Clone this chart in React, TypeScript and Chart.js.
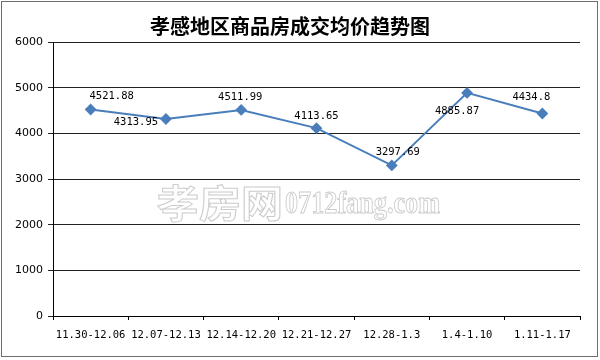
import React, { useEffect, useRef } from "react";
import { Chart, registerables } from "chart.js";

Chart.register(...registerables);

const titleText = "孝感地区商品房成交均价趋势图";
const categories = [
  "11.30-12.06",
  "12.07-12.13",
  "12.14-12.20",
  "12.21-12.27",
  "12.28-1.3",
  "1.4-1.10",
  "1.11-1.17",
];
const prices = [4521.88, 4313.95, 4511.99, 4113.65, 3297.69, 4885.87, 4434.8];
const priceLabels = ["4521.88", "4313.95", "4511.99", "4113.65", "3297.69", "4885.87", "4434.8"];
const watermarkCn = "孝房网";
const watermarkEn = "0712fang.com";

// label placement relative to the point (style only)
const labelOffsets: [number, number][] = [
  [21, -13],
  [-30, 3],
  [-1, -13],
  [0, -12],
  [6, -13],
  [-10, 18],
  [-11, -16],
];

const LINE_COLOR = "#4a7ebb";

const borderPlugin = {
  id: "outerBorder",
  beforeDraw(chart: any) {
    const ctx = chart.ctx;
    ctx.save();
    ctx.fillStyle = "#ffffff";
    ctx.fillRect(0, 0, chart.width, chart.height);
    ctx.strokeStyle = "#6e6e6e";
    ctx.lineWidth = 1;
    ctx.strokeRect(1.5, 1.5, 596, 355);
    ctx.restore();
  },
};

const watermarkPlugin = {
  id: "watermark",
  beforeDatasetsDraw(chart: any) {
    const ctx = chart.ctx;
    ctx.save();
    ctx.textBaseline = "middle";
    ctx.textAlign = "left";
    ctx.fillStyle = "#ffffff";
    ctx.strokeStyle = "#cccccc";
    ctx.lineWidth = 1;
    ctx.font = "bold 38px 'Noto Sans CJK SC'";
    let w = ctx.measureText(watermarkCn).width;
    ctx.save();
    ctx.translate(157, 203);
    ctx.scale(126 / w, 1);
    ctx.fillText(watermarkCn, 0, 0);
    ctx.strokeText(watermarkCn, 0, 0);
    ctx.restore();
    ctx.font = "bold 31px 'Liberation Serif'";
    w = ctx.measureText(watermarkEn).width;
    ctx.save();
    ctx.translate(285, 205);
    ctx.scale(155 / w, 1);
    ctx.fillText(watermarkEn, 0, 0);
    ctx.strokeText(watermarkEn, 0, 0);
    ctx.restore();
    ctx.restore();
  },
};

const dataLabelPlugin = {
  id: "pointLabels",
  afterDatasetsDraw(chart: any) {
    const ctx = chart.ctx;
    const meta = chart.getDatasetMeta(0);
    ctx.save();
    ctx.font = "10.5px 'DejaVu Sans Mono'";
    ctx.fillStyle = "#000000";
    ctx.textAlign = "center";
    ctx.textBaseline = "middle";
    meta.data.forEach((pt: any, i: number) => {
      const [dx, dy] = labelOffsets[i];
      ctx.fillText(priceLabels[i], pt.x + dx, pt.y + dy);
    });
    ctx.restore();
  },
};

export default function App() {
  const canvasRef = useRef<HTMLCanvasElement>(null);

  useEffect(() => {
    if (!canvasRef.current) return;
    const chart = new Chart(canvasRef.current, {
      type: "line",
      data: {
        labels: categories,
        datasets: [
          {
            data: prices,
            borderColor: LINE_COLOR,
            backgroundColor: LINE_COLOR,
            borderWidth: 2,
            pointStyle: "rectRot",
            pointRadius: 4.5,
            pointHoverRadius: 4.5,
            pointBackgroundColor: LINE_COLOR,
            pointBorderColor: LINE_COLOR,
            tension: 0,
            fill: false,
          },
        ],
      },
      options: {
        animation: false,
        responsive: false,
        maintainAspectRatio: false,
        events: [],
        layout: { padding: { left: 0, right: 20, top: 0, bottom: 0 } },
        plugins: {
          legend: { display: false },
          tooltip: { enabled: false },
          title: {
            display: true,
            text: titleText,
            color: "#000000",
            font: { family: "'Noto Sans CJK SC'", size: 20, weight: "bold" },
            padding: { top: 14, bottom: 4 },
          },
        },
        scales: {
          x: {
            type: "category",
            offset: true,
            afterFit(scale: any) {
              scale.height = 44;
            },
            grid: {
              offset: true,
              drawOnChartArea: false,
              drawTicks: true,
              tickLength: 4,
              color: "#000000",
            },
            border: { display: true, color: "#000000", width: 1 },
            ticks: {
              color: "#000000",
              padding: 9,
              maxRotation: 0,
              autoSkip: false,
              font: { family: "'DejaVu Sans Mono'", size: 10.5 },
            },
          },
          y: {
            min: 0,
            max: 6000,
            afterFit(scale: any) {
              scale.width = 53;
            },
            grid: {
              color: "#222222",
              lineWidth: 1,
              drawTicks: true,
              tickLength: 5,
            },
            border: { display: true, color: "#000000", width: 1 },
            ticks: {
              stepSize: 1000,
              color: "#000000",
              padding: 5,
              font: { family: "'DejaVu Sans'", size: 11 },
              callback: (value: any) => String(value),
            },
          },
        },
      },
      plugins: [borderPlugin, watermarkPlugin, dataLabelPlugin],
    });
    return () => chart.destroy();
  }, []);

  return (
    <div style={{ position: "fixed", left: 0, top: 0, width: 600, height: 360 }}>
      <canvas ref={canvasRef} width={600} height={360} style={{ width: 600, height: 360 }} />
    </div>
  );
}
